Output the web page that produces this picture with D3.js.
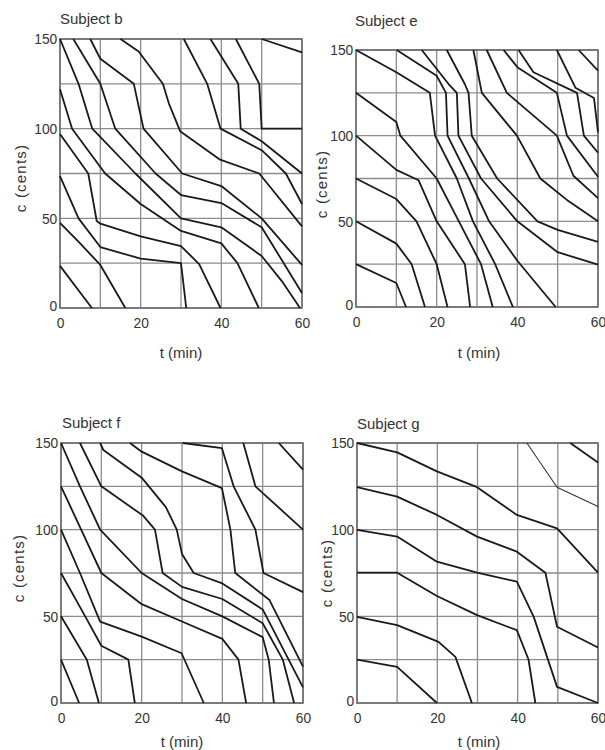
<!DOCTYPE html>
<html><head><meta charset="utf-8">
<script src="https://cdn.jsdelivr.net/npm/d3@7"></script>
<style>body{margin:0;background:#fff}</style>
</head><body>
<svg id="chart" width="605" height="750"></svg>
<script>
// ---- data ----
const xTickLabels = [0, 20, 40, 60];
const yTickLabels = [0, 50, 100, 150];
const xGrid = [0, 10, 20, 30, 40, 50, 60];
const yGrid = [0, 25, 50, 75, 100, 125, 150];
const titles = ["Subject b", "Subject e", "Subject f", "Subject g"];
const xTitle = "t (min)";
const yTitle = "c (cents)";

const subjectB = [
  [[0,23.5],[7.9,0]],
  [[0,47.5],[5,36],[10,24],[16.2,0]],
  [[0,73.5],[4.6,50],[10,34],[20,27.5],[30,25],[31.3,0]],
  [[0,97],[7,75],[9.1,48.5],[10,47],[20,40],[30,34.5],[34.5,24.5],[39.8,0]],
  [[0,122],[3,100],[11.2,75],[20,58],[30,43],[40,36],[44,25],[49.3,0]],
  [[0,150],[4.6,125],[8,100],[18.7,75],[30,50],[40,45],[50,29],[55,15],[59.5,0]],
  [[3.3,150],[10,125],[13.7,100],[23.7,75],[30,63],[40,58.5],[50,45],[60,8.4]],
  [[7.5,150],[10,139],[18.3,125],[20.7,100],[30.3,75],[40,68],[50,50],[60,24]],
  [[15,150],[19.5,143],[25.5,125],[27,114],[29.8,98.6],[39.7,82.7],[49.4,75],[60,45.5]],
  [[30.7,150],[36.5,125],[39.8,100],[50,88],[56,75],[60,58]],
  [[37.3,150],[44.2,125],[44.8,100],[50,93],[60,75]],
  [[43.6,150],[49.4,125],[50,100],[60,100]],
  [[50,150],[60,142.5]]
];
const subjectE = [
  [[0,25],[10,14],[12.4,0]],
  [[0,50],[10,37],[13.8,25],[17.1,0]],
  [[0,75],[10,63],[15,50],[20,25],[22.7,0]],
  [[0,100],[10,80],[15.5,74],[20,50],[27,25],[28.3,0]],
  [[0,125],[10,108],[11,100],[20,75],[25.5,50],[31,25],[33.9,0]],
  [[0,150],[10,137],[18.3,125],[19.6,100],[25,75],[29,50],[34.5,25],[38.9,0]],
  [[10.1,150],[20,135],[22.3,125],[22.7,100],[28,75],[33,50],[40,27],[49.5,0]],
  [[16.3,150],[23,130],[25,125],[25.4,100],[31,75],[40,50],[50,32],[60,24.7]],
  [[22.5,150],[27,130],[27.9,125],[28.7,100],[35,75],[45,50],[50,45],[60,38]],
  [[29.1,150],[31.2,125],[39.9,100],[45.7,75],[52.3,62.5],[60,50]],
  [[32.4,150],[37.4,125],[49.8,100],[53.9,76.6],[60,63.5]],
  [[36.6,150],[40,140],[49.8,125],[52.3,100],[60,76]],
  [[40.3,150],[44,137],[54.8,125],[56.5,100],[60,90]],
  [[49.8,150],[54.4,128],[59,122],[60,102]],
  [[55.2,150],[60,138]]
];
const subjectF = [
  [[0,25],[4.5,0]],
  [[0,50],[6.4,25],[9.4,0]],
  [[0,75],[6,50],[10,33],[16.7,25],[18.3,0]],
  [[0,100],[4.7,75],[9.7,47],[20,38.3],[29.9,28.7],[35.4,0]],
  [[0,125],[5,100],[10,75],[20,57],[30,47],[40,37],[44,25],[45.9,0]],
  [[0,150],[4.7,125],[9.7,100],[20,75],[30,60],[40,50],[50,38],[51.5,25],[52.8,0]],
  [[4.7,150],[10,125],[20.4,108],[23.3,100],[25.2,75],[30,67],[40,60],[50,46],[55,25],[57.8,0]],
  [[9.7,150],[10.5,146],[20,130],[26,113],[28.7,100],[30,86],[32.9,75],[40,69],[50,54],[60,9]],
  [[17.1,150],[20,145],[30,133.6],[39.9,124],[42,100],[43.2,75],[51.7,59.4],[60,21]],
  [[30.2,150],[39.9,147],[42.8,125],[48.2,100],[50.2,75],[60,64]],
  [[45.2,150],[48.2,125],[60,100]],
  [[54,150],[60,134.6]]
];
const subjectG = [
  [[0,25],[10,20.8],[19.9,0]],
  [[0,49.7],[10,44.9],[20.3,35.3],[24.5,26.6],[28.6,0]],
  [[0,75.2],[10,75.2],[19.9,61.7],[29.9,50.7],[39.8,42],[42.7,25.1],[44.4,0]],
  [[0,99.9],[10,96],[19.9,81.5],[29.9,75.2],[39.8,70],[44,49.7],[49.8,9.3],[60,0]],
  [[0,124.5],[10,119.1],[19.9,108.5],[29.9,96],[39.8,87.3],[46.9,75.2],[49.8,44],[60,32]],
  [[0,150],[10,144.6],[19.9,133.6],[29.9,124.5],[39.8,108.5],[49.8,100.8],[60,75.2]],
  [[42.3,150],[49.8,124.5],[60,113.4]],
  [[53.1,150],[60,138.8]]
];

// ---- layout ----
const FONT = "'Liberation Sans', Arial, sans-serif";
const layout = [
  {x0:60, x1:302, y0:39, y1:308, tx:60, ty:24, xl:181, xly:358, yl:21, yly:178, thin:[]},
  {x0:356, x1:598, y0:50, y1:307, tx:355, ty:26, xl:479, xly:358, yl:322, yly:184, thin:[]},
  {x0:61, x1:303, y0:443, y1:703, tx:62, ty:428, xl:182, xly:747, yl:19, yly:568, thin:[]},
  {x0:357, x1:598, y0:443, y1:703, tx:357, ty:429, xl:479, xly:747, yl:327, yly:573, thin:[6]}
];
const datasets = [subjectB, subjectE, subjectF, subjectG];

const svg = d3.select("#chart");
svg.append("rect").attr("width",605).attr("height",750).attr("fill","#fff");

datasets.forEach((data, i) => {
  const L = layout[i];
  const x = d3.scaleLinear().domain([0,60]).range([L.x0, L.x1]);
  const y = d3.scaleLinear().domain([0,150]).range([L.y1, L.y0]);
  const g = svg.append("g");

  // grid
  g.selectAll(".vg").data(xGrid).join("line")
    .attr("x1", d=>x(d)).attr("x2", d=>x(d)).attr("y1", L.y0).attr("y2", L.y1)
    .attr("stroke","#8c8c8c").attr("stroke-width",1.3);
  g.selectAll(".hg").data(yGrid).join("line")
    .attr("y1", d=>y(d)).attr("y2", d=>y(d)).attr("x1", L.x0).attr("x2", L.x1)
    .attr("stroke","#8c8c8c").attr("stroke-width",1.3);
  g.append("rect").attr("x",L.x0).attr("y",L.y0).attr("width",L.x1-L.x0).attr("height",L.y1-L.y0)
    .attr("fill","none").attr("stroke","#6e6e6e").attr("stroke-width",1.6);

  // curves
  const line = d3.line().x(d=>x(d[0])).y(d=>y(d[1]));
  g.selectAll(".curve").data(data).join("path")
    .attr("d", line).attr("fill","none")
    .attr("stroke", (d,k) => L.thin.includes(k) ? "#333" : "#1a1a1a")
    .attr("stroke-width", (d,k) => L.thin.includes(k) ? 1.1 : 1.8)
    .attr("stroke-linejoin","round");

  // axes
  const xa = g.append("g").attr("transform",`translate(0,${L.y1})`)
    .call(d3.axisBottom(x).tickValues(xTickLabels).tickSize(0).tickPadding(9));
  const ya = g.append("g").attr("transform",`translate(${L.x0},0)`)
    .call(d3.axisLeft(y).tickValues(yTickLabels).tickSize(0).tickPadding(3));
  [xa, ya].forEach(a => {
    a.select(".domain").remove();
    a.selectAll("text").attr("font-family",FONT).attr("font-size",15).attr("fill","#333")
      .attr("transform","scale(0.92,1)");
  });
  ya.selectAll("text").filter(d=>d===0).attr("dy","0.15em");

  // labels
  g.append("text").attr("x",L.tx).attr("y",L.ty).text(titles[i])
    .attr("font-family",FONT).attr("font-size",15).attr("fill","#333");
  g.append("text").attr("x",L.xl).attr("y",L.xly).attr("text-anchor","middle").text(xTitle)
    .attr("font-family",FONT).attr("font-size",15).attr("fill","#333");
  g.append("text").attr("transform",`translate(${L.yl},${L.yly}) rotate(-90)`)
    .attr("text-anchor","middle").attr("dy","0.35em").text(yTitle)
    .attr("font-family",FONT).attr("font-size",15).attr("letter-spacing",1.2).attr("fill","#333");
});
</script>
</body></html>
